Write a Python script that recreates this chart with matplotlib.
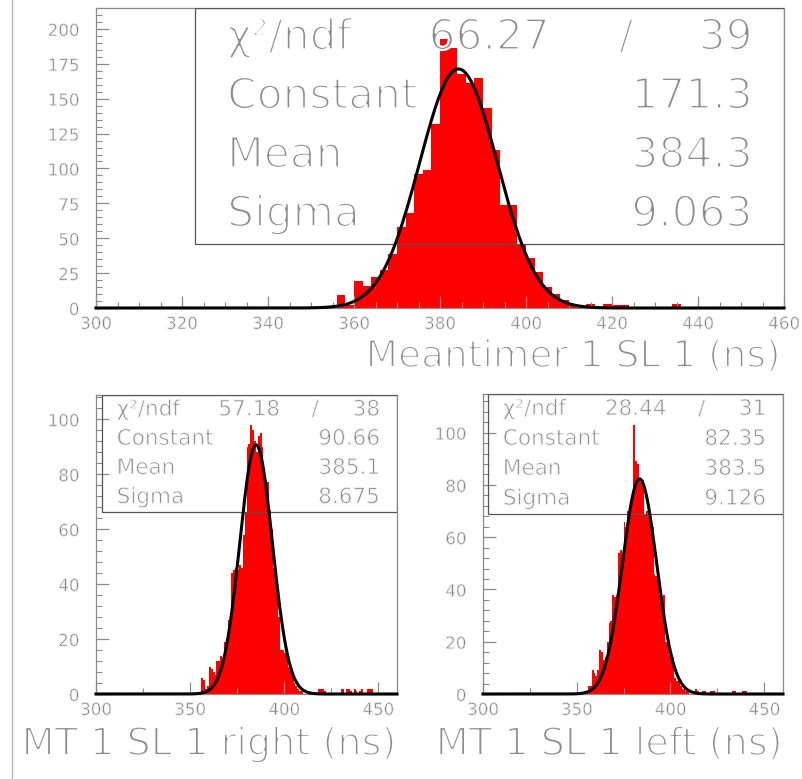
import numpy as np
import matplotlib
matplotlib.use('Agg')
import matplotlib.pyplot as plt
import matplotlib.patheffects as pe
from matplotlib.lines import Line2D
from matplotlib.patches import Rectangle
from matplotlib.ticker import MultipleLocator

plt.rcParams['font.family'] = ['DejaVu Sans']

# Meantimer 1 SL 1 : 2 ns bins, first filled bin starts at 356 ns
mt_start, mt_width = 356, 2
mt_counts = [9, 2, 19, 16, 22, 27, 39, 58, 68, 96, 99, 132, 193, 186, 168, 161,
             165, 143, 113, 74, 74, 46, 36, 26, 15, 10, 6, 3, 1, 3, 1, 3, 2, 2,
             0, 0, 0, 1, 1, 3, 1, 0, 1, 1, 1, 1]
mt_fit = {'chi2': '66.27', 'ndf': '39', 'const': 171.3, 'mean': 384.3, 'sigma': 9.063}

# MT 1 SL 1 right : 1 ns bins starting at 356 ns
right_start, right_width = 356, 1
right_counts = [6, 5, 2, 3, 10, 9, 8, 7, 12, 12, 14, 13, 19, 18, 27, 26, 44, 45,
                46, 45, 47, 46, 58, 66, 90, 91, 98, 96, 92, 88, 94, 95, 90, 80,
                78, 77, 67, 60, 46, 42, 41, 28, 16, 16, 15, 14, 10, 9, 7, 4, 3,
                2, 1, 1, 0, 0, 1, 0, 0, 0, 0, 0, 2, 2, 2, 1, 0, 0, 0, 0, 0, 0,
                0, 0, 2, 2, 0, 2, 2, 1, 0, 2, 1, 0, 1, 2, 0, 0, 2, 2, 2]
right_fit = {'chi2': '57.18', 'ndf': '38', 'const': 90.66, 'mean': 385.1, 'sigma': 8.675}

# MT 1 SL 1 left : 1 ns bins starting at 355 ns
left_start, left_width = 355, 1
left_counts = [1, 3, 3, 9, 8, 7, 9, 17, 16, 13, 14, 20, 27, 28, 38, 37, 38, 54,
               55, 54, 66, 64, 70, 72, 75, 103, 89, 88, 82, 81, 82, 69, 70, 68,
               65, 64, 46, 45, 44, 38, 37, 38, 20, 19, 15, 16, 14, 6, 5, 5, 3,
               2, 2, 1, 1, 0, 0, 1, 2, 1, 0, 0, 1, 1, 0, 0, 1, 1, 1, 0, 0, 0,
               0, 0, 0, 0, 0, 0, 1, 1, 0, 0, 0, 1, 1, 1]
left_fit = {'chi2': '28.44', 'ndf': '31', 'const': 82.35, 'mean': 383.5, 'sigma': 9.126}

GRAY = '#8a8a8a'
TXT = '#8c8c8c'
W, H = 803, 779
fig = plt.figure(figsize=(W / 100, H / 100), dpi=100)


def thin(lw):
    # erode the glyph outline with a white stroke so the letters look hairline
    return [pe.Normal(), pe.Stroke(linewidth=lw, foreground='white')]


def px_axes(x0, y0, x1, y1):
    return fig.add_axes([x0 / W, 1 - y1 / H, (x1 - x0) / W, (y1 - y0) / H])


def draw_hist(ax, start, width, counts, fit, ymax, xmajor, xminor, ymajor, yminor):
    edges = start + width * np.arange(len(counts) + 1)
    ax.stairs(counts, edges, fill=True, color='#ff0000', lw=0)
    xs = np.linspace(300, 460, 600)
    ys = fit['const'] * np.exp(-0.5 * ((xs - fit['mean']) / fit['sigma']) ** 2)
    ax.plot(xs, ys, color='black', lw=2.2, clip_on=False, zorder=5)
    ax.set_xlim(300, 460)
    ax.set_ylim(0, ymax)
    ax.xaxis.set_major_locator(MultipleLocator(xmajor))
    ax.xaxis.set_minor_locator(MultipleLocator(xminor))
    ax.yaxis.set_major_locator(MultipleLocator(ymajor))
    ax.yaxis.set_minor_locator(MultipleLocator(yminor))
    ax.tick_params(which='both', direction='in', color=GRAY, labelcolor='#808080',
                   labelsize=12, top=False, right=False)
    ax.tick_params(which='major', length=9, width=0.9)
    ax.tick_params(which='minor', length=4.5, width=0.8)
    ax.tick_params(axis='y', pad=12)
    ax.tick_params(axis='x', pad=5)
    for lab in ax.get_xticklabels() + ax.get_yticklabels():
        lab.set_path_effects(thin(0.45))
    for sp in ax.spines.values():
        sp.set_color(GRAY)
        sp.set_linewidth(0.9)


def stats_box(ax, x0, y0, fit, fs, xlab, xval, xslash, xchi, erode):
    # box in data coordinates, no fill
    ylim = ax.get_ylim()[1]
    ax.add_patch(Rectangle((x0, y0), 460 - x0, ylim - y0, fill=False,
                           edgecolor='#555555', lw=0.9, zorder=4))
    rows = ylim - y0
    kw = dict(color=TXT, fontsize=fs, va='center', zorder=6)
    names = ['χ²/ndf', 'Constant', 'Mean', 'Sigma']
    vals = [None, '%.1f' % fit['const'] if fit['const'] > 100 else '%.2f' % fit['const'],
            '%.1f' % fit['mean'], '%.3f' % fit['sigma']]
    for i, name in enumerate(names):
        yy = ylim - rows * (i + 0.5) / 4
        texts = [ax.text(xlab, yy, name, ha='left', **kw)]
        if i == 0:
            texts.append(ax.text(xchi, yy, fit['chi2'], ha='right', **kw))
            texts.append(ax.text(xslash, yy, '/', ha='center', **kw))
            texts.append(ax.text(xval, yy, fit['ndf'], ha='right', **kw))
        else:
            texts.append(ax.text(xval, yy, vals[i], ha='right', **kw))
        for t in texts:
            t.set_path_effects(thin(erode))


# top panel
ax1 = px_axes(96, 8, 784, 308)
draw_hist(ax1, mt_start, mt_width, mt_counts, mt_fit, 215, 20, 5, 25, 5)
stats_box(ax1, 323, 46, mt_fit, 30.5, 330.5, 452.7, 423.3, 405.6, 1.6)
fig.text(780 / W, 1 - 357 / H, 'Meantimer 1 SL 1 (ns)', ha='right', va='center',
         fontsize=27, color=TXT, path_effects=thin(1.4))

# bottom left
ax2 = px_axes(96, 395, 397, 694)
draw_hist(ax2, right_start, right_width, right_counts, right_fit, 108.8, 50, 25, 20, 4)
stats_box(ax2, 303, 66.3, right_fit, 15.5, 311, 451, 416.5, 397.9, 0.6)
fig.text(397 / W, 1 - 745 / H, 'MT 1 SL 1 right (ns)', ha='right', va='center',
         fontsize=27.5, color=TXT, path_effects=thin(1.4))

# bottom right
ax3 = px_axes(483, 394, 783, 694)
draw_hist(ax3, left_start, left_width, left_counts, left_fit, 114.8, 50, 25, 20, 4)
stats_box(ax3, 302.5, 69, left_fit, 15.5, 310.6, 451, 416.6, 398, 0.6)
fig.text(783 / W, 1 - 745 / H, 'MT 1 SL 1 left (ns)', ha='right', va='center',
         fontsize=27.5, color=TXT, path_effects=thin(1.4))

# canvas border line on the left
fig.add_artist(Line2D([12 / W, 12 / W], [0, 1], color='#bbbbbb', lw=1))

fig.savefig('out.png', dpi=100, facecolor='white')
